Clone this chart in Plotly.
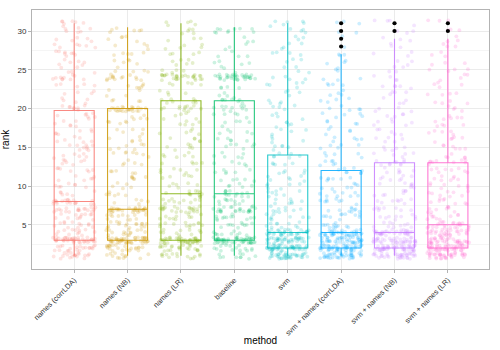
import math
import plotly.graph_objects as go

# ---------------- data ----------------
METHODS = ["names (corrLDA)", "names (NB)", "names (LR)", "baseline", "svm",
           "svm + names (corrLDA)", "svm + names (NB)", "svm + names (LR)"]
COLORS = ["#F8766D", "#CD9600", "#7CAE00", "#00BE67", "#00BFC4", "#00A9FF", "#C77CFF", "#FF61CC"]

RANKS = list(range(1, 32))

# number of test items at each rank (1..31) per method
counts_names_corrlda = [18, 20, 40, 12, 12, 12, 18, 20, 6, 7, 6, 7, 7, 6, 9, 6, 6, 6, 7, 8, 5, 4, 5, 10, 5, 6, 8, 6, 5, 6, 7]
counts_names_nb      = [12, 22, 45, 15, 16, 12, 30, 5, 6, 5, 6, 5, 5, 7, 6, 5, 5, 5, 5, 25, 4, 4, 6, 14, 5, 5, 5, 4, 5, 6, 0]
counts_names_lr      = [14, 22, 45, 10, 12, 10, 22, 10, 12, 6, 5, 6, 5, 6, 6, 5, 5, 5, 5, 12, 8, 4, 5, 28, 4, 6, 4, 5, 3, 5, 5]
counts_baseline      = [10, 14, 55, 10, 10, 12, 25, 10, 14, 5, 5, 6, 5, 6, 6, 5, 5, 5, 5, 10, 8, 3, 4, 35, 3, 4, 4, 3, 3, 10, 0]
counts_svm           = [40, 45, 40, 35, 10, 8, 9, 7, 7, 6, 6, 5, 5, 6, 5, 4, 4, 5, 4, 4, 4, 4, 5, 4, 4, 3, 4, 4, 3, 4, 6]
counts_svm_corrlda   = [38, 45, 40, 37, 12, 10, 9, 8, 8, 7, 7, 8, 6, 5, 5, 5, 4, 5, 5, 5, 4, 4, 4, 3, 3, 3, 3, 1, 1, 2, 3]
counts_svm_nb        = [36, 45, 38, 35, 10, 9, 8, 8, 7, 7, 7, 6, 10, 5, 5, 5, 5, 5, 5, 4, 4, 4, 5, 4, 4, 3, 3, 3, 3, 3, 4]
counts_svm_lr        = [36, 42, 34, 28, 22, 9, 9, 8, 8, 7, 7, 8, 9, 5, 6, 5, 5, 5, 5, 4, 4, 4, 4, 4, 4, 3, 3, 3, 3, 3, 3]
COUNTS = [counts_names_corrlda, counts_names_nb, counts_names_lr, counts_baseline,
          counts_svm, counts_svm_corrlda, counts_svm_nb, counts_svm_lr]

# box statistics per method
box_q1     = [3, 3, 3, 3, 2, 2, 2, 2]
box_median = [8, 7, 9, 9, 4, 4, 4, 5]
box_q3     = [19.75, 20, 21, 21, 14, 12, 13, 13]
box_low    = [1, 1, 1, 1, 1, 1, 1, 1]
box_high   = [31, 30.5, 31, 30.5, 31, 27, 29, 29]
outliers   = [[], [], [], [], [], [28, 29, 30, 31], [30, 31], [30, 31]]

Y_TICKS = [5, 10, 15, 20, 25, 30]
Y_MINOR = [2.5, 7.5, 12.5, 17.5, 22.5, 27.5]


# deterministic jitter offsets (like geom_jitter, width/height 0.4)
def _frac_hash(n, seed):
    s = math.sin(n * 12.9898 + seed * 78.233) * 43758.5453
    return s - math.floor(s)


def hex_rgba(h, a):
    h = h.lstrip("#")
    return "rgba(%d,%d,%d,%.3f)" % (int(h[0:2], 16), int(h[2:4], 16), int(h[4:6], 16), a)


fig = go.Figure()

for i, (m, col, cnt) in enumerate(zip(METHODS, COLORS, COUNTS)):
    ys = [r for r, c in zip(RANKS, cnt) for _ in range(c)]
    xs_j, ys_j = [], []
    for n, r in enumerate(ys):
        u = _frac_hash(n + 1000 * i, 1.0)
        v = _frac_hash(n + 1000 * i, 2.0)
        xs_j.append(i + (u - 0.5) * 0.8)
        ys_j.append(r + (v - 0.5) * 0.8)
    fig.add_trace(go.Box(
        x=[i], q1=[box_q1[i]], median=[box_median[i]], q3=[box_q3[i]],
        lowerfence=[box_low[i]], upperfence=[box_high[i]],
        boxpoints=False, width=0.75, whiskerwidth=0,
        line=dict(color=hex_rgba(col, 0.85), width=1.1),
        fillcolor="rgba(0,0,0,0)", name=m, showlegend=False, hoverinfo="skip"))
    fig.add_trace(go.Scatter(
        x=xs_j, y=ys_j, mode="markers", name=m, showlegend=False,
        marker=dict(color=hex_rgba(col, 0.2), size=3.8, line=dict(width=0)),
        hoverinfo="skip"))
    if outliers[i]:
        fig.add_trace(go.Scatter(
            x=[i] * len(outliers[i]), y=outliers[i], mode="markers", showlegend=False,
            marker=dict(color="black", size=4.2, line=dict(width=0)), hoverinfo="skip"))

FONT = "Liberation Sans, Arial, sans-serif"
fig.update_layout(
    width=500, height=350,
    margin=dict(l=32, r=11, t=10, b=81),
    paper_bgcolor="white", plot_bgcolor="white",
    boxmode="overlay",
    font=dict(family=FONT, size=8, color="#4D4D4D"),
    xaxis=dict(
        range=[-0.79, 7.77], tickmode="array", tickvals=list(range(len(METHODS))),
        ticktext=METHODS, tickangle=-45, tickfont=dict(size=7.4, color="#333333"),
        showgrid=True, gridcolor="#EBEBEB", gridwidth=1, zeroline=False,
        showline=True, linecolor="#B3B3B3", linewidth=1, mirror=True,
        ticks="outside", ticklen=3, tickcolor="#B3B3B3",
        title=dict(text="method", font=dict(size=10, color="black"), standoff=0),
        automargin=False),
    yaxis=dict(
        range=[-0.71, 32.71], tickmode="array", tickvals=Y_TICKS,
        tickfont=dict(size=8, color="#333333"),
        showgrid=True, gridcolor="#EBEBEB", gridwidth=1, zeroline=False,
        minor=dict(tickmode="array", tickvals=Y_MINOR, showgrid=True, gridcolor="#F5F5F5", ticklen=0),
        showline=True, linecolor="#B3B3B3", linewidth=1, mirror=True,
        ticks="outside", ticklen=3, tickcolor="#B3B3B3",
        title=dict(text="rank", font=dict(size=10, color="black"), standoff=6),
        automargin=False),
)

fig.write_html("out.html")
